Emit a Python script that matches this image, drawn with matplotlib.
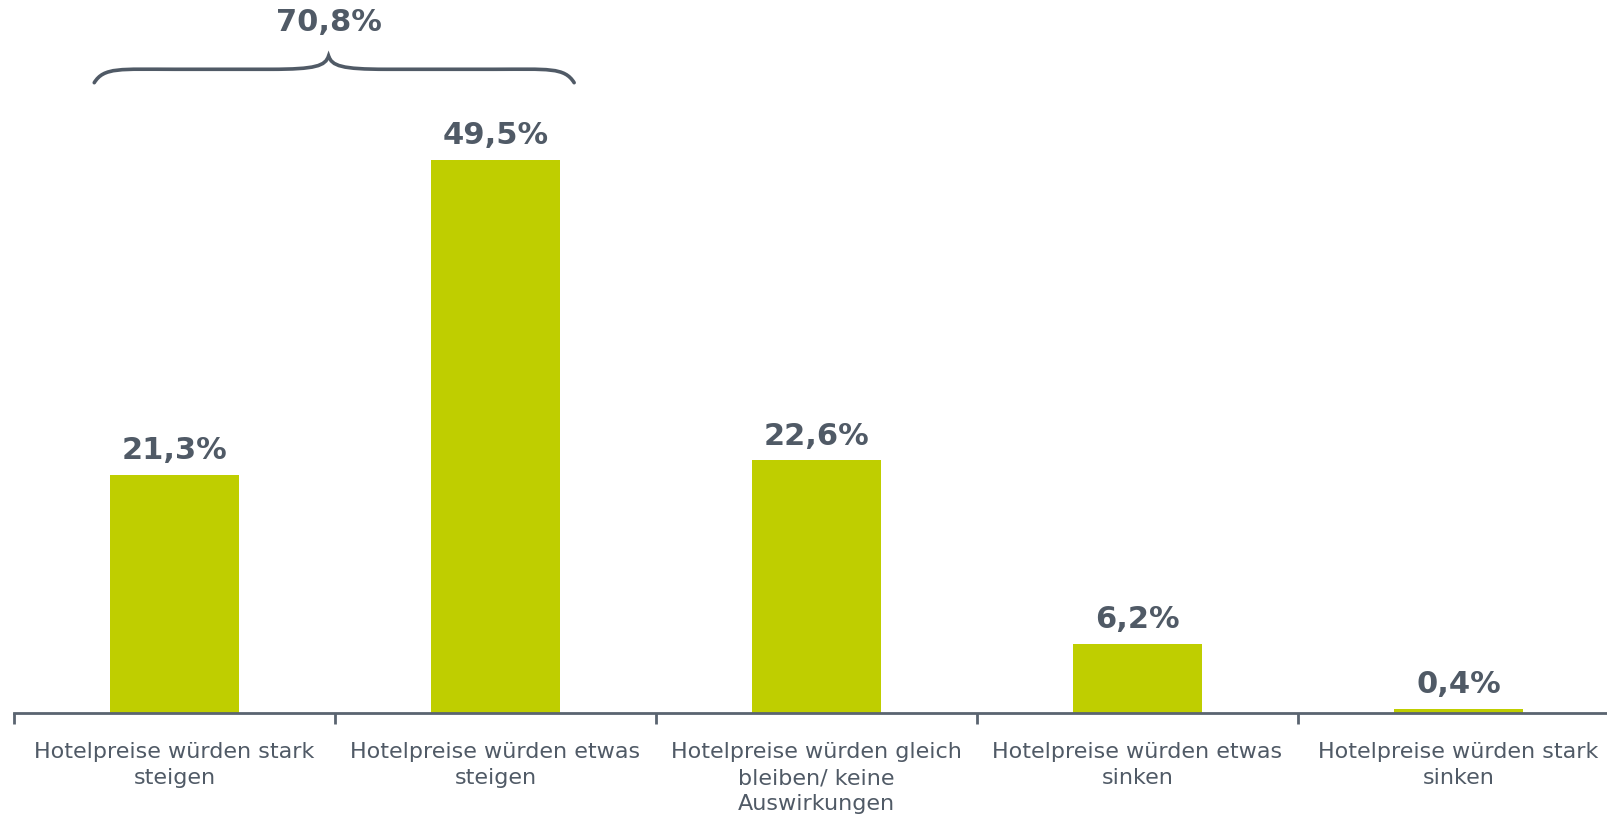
import matplotlib.pyplot as plt
from matplotlib.path import Path
from matplotlib.patches import PathPatch

categories = [
    "Hotelpreise würden stark\nsteigen",
    "Hotelpreise würden etwas\nsteigen",
    "Hotelpreise würden gleich\nbleiben/ keine\nAuswirkungen",
    "Hotelpreise würden etwas\nsinken",
    "Hotelpreise würden stark\nsinken",
]
values = [21.3, 49.5, 22.6, 6.2, 0.4]
group_total = 70.8

bar_color = "#BFCE00"
text_color = "#505A66"

fig = plt.figure(figsize=(16.08, 8.17), dpi=100)
ax = fig.add_axes([14 / 1608, 104 / 817, 1605 / 1608, 713 / 817])

x = list(range(len(values)))
ax.bar(x, values, width=0.4, color=bar_color, zorder=2)

for xi, v in zip(x, values):
    ax.annotate(f"{v:.1f}%".replace(".", ","), (xi, v), xytext=(0, 7),
                textcoords="offset points", ha="center", va="bottom",
                fontsize=22, fontweight="bold", color=text_color)

# curly brace over the two "steigen" bars
x0, x1 = -0.25, 1.245
xm = 0.48
y_end, y_mid, y_tip = 56.4, 57.6, 58.8
verts = [
    (x0, y_end),
    (x0 + 0.03, y_mid + 0.2), (x0 + 0.08, y_mid), (x0 + 0.25, y_mid),
    (xm - 0.18, y_mid),
    (xm - 0.04, y_mid), (xm - 0.01, y_mid + 0.3), (xm, y_tip),
    (xm + 0.01, y_mid + 0.3), (xm + 0.04, y_mid), (xm + 0.18, y_mid),
    (x1 - 0.25, y_mid),
    (x1 - 0.08, y_mid), (x1 - 0.03, y_mid + 0.2), (x1, y_end),
]
codes = [Path.MOVETO,
         Path.CURVE4, Path.CURVE4, Path.CURVE4,
         Path.LINETO,
         Path.CURVE4, Path.CURVE4, Path.CURVE4,
         Path.CURVE4, Path.CURVE4, Path.CURVE4,
         Path.LINETO,
         Path.CURVE4, Path.CURVE4, Path.CURVE4]
ax.add_patch(PathPatch(Path(verts, codes), facecolor="none",
                       edgecolor=text_color, lw=2.6, capstyle="round",
                       clip_on=False))
ax.text(xm, 61.8, f"{group_total:.1f}%".replace(".", ","), ha="center",
        va="center", fontsize=22, fontweight="bold", color=text_color)

ax.set_xlim(-0.5, len(values) - 0.5)
ax.set_ylim(0, 63.8)

ax.set_xticks(x)
ax.set_xticklabels(categories, fontsize=16, color=text_color, linespacing=1.38)
ax.tick_params(axis="x", which="major", length=0, pad=21)
ax.set_xticks([i - 0.5 for i in range(len(values) + 1)], minor=True)
ax.tick_params(axis="x", which="minor", length=8, width=2, color="#5A6470")
ax.set_yticks([])

for side in ["top", "right", "left"]:
    ax.spines[side].set_visible(False)
ax.spines["bottom"].set_color("#5A6470")
ax.spines["bottom"].set_linewidth(2)

fig.savefig("out.png", dpi=100)
